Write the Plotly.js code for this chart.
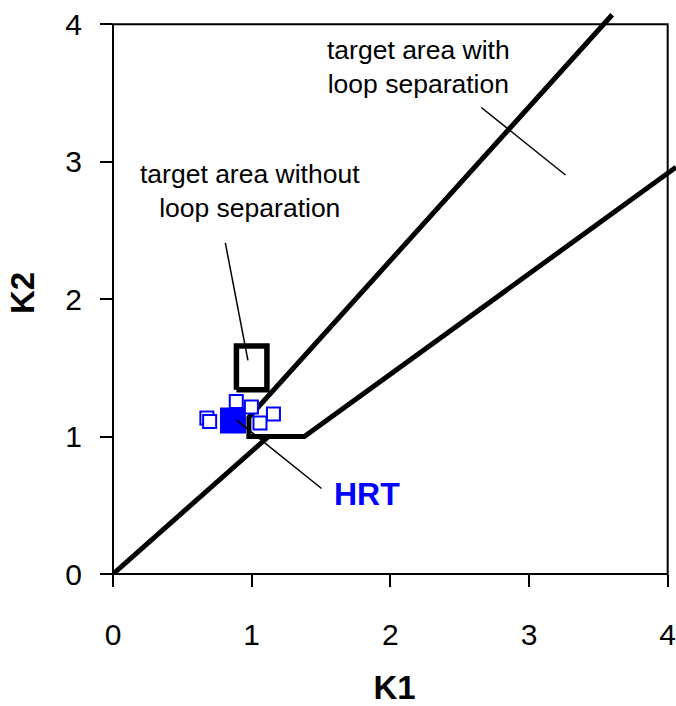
<!DOCTYPE html>
<html>
<head>
<meta charset="utf-8">
<script src="https://cdn.plot.ly/plotly-3.0.1.min.js"></script>
<style>html,body{margin:0;padding:0;background:#fff;}#chart{width:676px;height:706px;}</style>
</head>
<body>
<div id="chart"></div>
<script>
// ---- data ----
const tickVals = [0, 1, 2, 3, 4];
const tickText = ["0", "1", "2", "3", "4"];
const frameK1 = [0, 4];
const frameK2 = [0, 4];

// line from the origin
const originLineK1 = [0, 1.12];
const originLineK2 = [0, 1.0];

// boundary of target area with loop separation
const wedgeK1 = [3.6, 0.98, 0.98, 1.38, 4.06];
const wedgeK2 = [4.07, 1.14, 1.0, 1.0, 2.96];

// target area without loop separation (rectangle)
const rectK1 = [0.89, 1.11, 1.11, 0.89, 0.89];
const rectK2 = [1.34, 1.34, 1.66, 1.66, 1.34];

// HRT points
const hrtK1 = [0.677, 0.697, 0.889, 0.998, 1.157, 1.060];
const hrtK2 = [1.135, 1.110, 1.256, 1.215, 1.164, 1.099];
const hrtMeanK1 = [0.865];
const hrtMeanK2 = [1.117];

// label pointers
const ptrWithK1 = [2.656, 3.263];
const ptrWithK2 = [3.395, 2.904];
const ptrWithoutK1 = [0.81, 0.973];
const ptrWithoutK2 = [2.41, 1.554];
const ptrHrtK1 = [0.89, 1.504];
const ptrHrtK2 = [1.12, 0.622];

// labels
const labelWith = "target area with<br>loop separation";
const labelWithPos = [2.2, 3.69];
const labelWithout = "target area without<br>loop separation";
const labelWithoutPos = [0.986, 2.79];
const labelHrt = "HRT";
const labelHrtPos = [1.83, 0.58];
const xTitle = "K1";
const yTitle = "K2";

// ---- chart ----
const xRange = [0, 4.06];
const yRange = [0, 4.09];
const FONT = "Liberation Sans, Arial, Helvetica, sans-serif";
const BLUE = "rgb(0,0,255)";

function line(x, y, w) {
  return {x: x, y: y, mode: "lines", type: "scatter",
          line: {color: "black", width: w}, hoverinfo: "skip"};
}

const traces = [
  line(originLineK1, originLineK2, 5),
  line(wedgeK1, wedgeK2, 5),
  line(rectK1, rectK2, 5.5),
  {x: hrtMeanK1, y: hrtMeanK2, mode: "markers", type: "scatter",
   marker: {symbol: "square", size: 26, color: BLUE, line: {width: 0}}},
  line(ptrWithK1, ptrWithK2, 1.5),
  line(ptrWithoutK1, ptrWithoutK2, 1.5),
  line(ptrHrtK1, ptrHrtK2, 1.5),
  {x: hrtK1, y: hrtK2, mode: "markers", type: "scatter",
   marker: {symbol: "square", size: 13, color: "white", line: {color: BLUE, width: 2}}}
];

const px = v => (v - xRange[0]) / (xRange[1] - xRange[0]);
const py = v => (v - yRange[0]) / (yRange[1] - yRange[0]);

const layout = {
  width: 676, height: 706,
  margin: {l: 113, r: 0, t: 12, b: 132},
  paper_bgcolor: "white", plot_bgcolor: "white",
  showlegend: false, hovermode: false,
  font: {family: FONT, color: "black"},
  xaxis: {
    range: xRange, showgrid: false, zeroline: false, showline: false,
    tickmode: "array", tickvals: tickVals, ticktext: tickText,
    ticks: "outside", ticklen: 12, tickwidth: 2, tickcolor: "black",
    ticklabelstandoff: 22, ticklabeloverflow: "allow",
    tickfont: {family: FONT, size: 30, color: "black"},
    title: {text: xTitle, font: {family: FONT, size: 33, color: "black", weight: "bold"}, standoff: 26}
  },
  yaxis: {
    range: yRange, showgrid: false, zeroline: false, showline: false,
    tickmode: "array", tickvals: tickVals, ticktext: tickText,
    ticks: "outside", ticklen: 12, tickwidth: 2, tickcolor: "black",
    ticklabelstandoff: 12,
    tickfont: {family: FONT, size: 30, color: "black"},
    title: {text: yTitle, font: {family: FONT, size: 33, color: "black", weight: "bold"}, standoff: 20}
  },
  shapes: [{
    type: "rect", xref: "paper", yref: "paper",
    x0: px(frameK1[0]), x1: px(frameK1[1]), y0: py(frameK2[0]), y1: py(frameK2[1]),
    line: {color: "black", width: 2}, layer: "below"
  }],
  annotations: [
    {x: labelWithPos[0], y: labelWithPos[1], text: labelWith, showarrow: false,
     font: {family: FONT, size: 26.5, color: "black"}, align: "center"},
    {x: labelWithoutPos[0], y: labelWithoutPos[1], text: labelWithout, showarrow: false,
     font: {family: FONT, size: 26.5, color: "black"}, align: "center"},
    {x: labelHrtPos[0], y: labelHrtPos[1], text: labelHrt, showarrow: false,
     font: {family: FONT, size: 32, color: BLUE, weight: "bold"}}
  ]
};

Plotly.newPlot("chart", traces, layout, {displayModeBar: false, staticPlot: true});
</script>
</body>
</html>
